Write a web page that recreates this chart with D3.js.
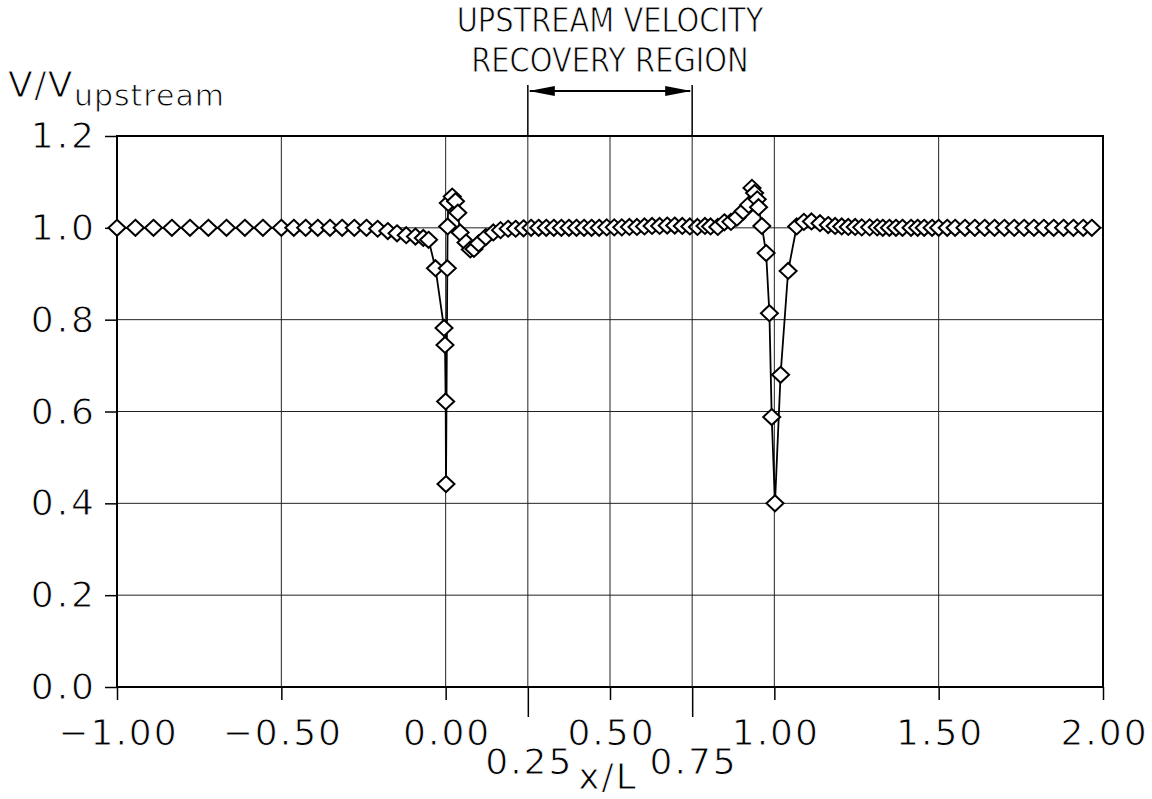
<!DOCTYPE html>
<html>
<head>
<meta charset="utf-8">
<script src="https://cdn.jsdelivr.net/npm/d3@7"></script>
<style>
  html, body { margin: 0; padding: 0; background: #fff; }
  svg { display: block; }
  text { font-family: "DejaVu Sans", sans-serif; fill: #000; stroke: #fff; stroke-width: 0.9px; }
</style>
</head>
<body>
<svg id="chart" width="1152" height="799"></svg>
<script>
// ---- data ----
const xValues = [
  -1.000, -0.944, -0.889, -0.833, -0.778, -0.722, -0.667, -0.611, -0.556, -0.500,
  -0.462, -0.426, -0.389, -0.352, -0.315, -0.278, -0.241, -0.207, -0.176, -0.148,
  -0.120, -0.092, -0.068, -0.052, -0.031, -0.005, -0.002, 0.000, 0.001, 0.005,
  0.006, 0.008, 0.020, 0.030, 0.037, 0.044, 0.062, 0.075, 0.086, 0.100,
  0.122, 0.145, 0.167, 0.190, 0.213, 0.237, 0.260, 0.283, 0.306, 0.329,
  0.352, 0.375, 0.398, 0.421, 0.444, 0.467, 0.490, 0.513, 0.536, 0.559,
  0.582, 0.605, 0.628, 0.651, 0.674, 0.697, 0.720, 0.743, 0.766, 0.789,
  0.806, 0.828, 0.848, 0.868, 0.886, 0.905, 0.922, 0.932, 0.940, 0.948,
  0.952, 0.962, 0.975, 0.985, 0.992, 1.002, 1.019, 1.042, 1.068, 1.090,
  1.113, 1.139, 1.164, 1.185, 1.205, 1.225, 1.246, 1.266, 1.290, 1.313,
  1.330, 1.350, 1.370, 1.390, 1.416, 1.436, 1.456, 1.480, 1.500, 1.526,
  1.550, 1.580, 1.610, 1.640, 1.670, 1.700, 1.730, 1.760, 1.790, 1.820,
  1.850, 1.880, 1.910, 1.940, 1.966
];
const yValues = [
  1.000, 1.000, 1.000, 1.000, 1.000, 1.000, 1.000, 1.000, 1.000, 1.000,
  1.000, 1.000, 1.000, 1.000, 1.000, 1.000, 1.000, 0.998, 0.993, 0.988,
  0.984, 0.981, 0.978, 0.974, 0.912, 0.782, 0.745, 0.622, 0.442, 0.912,
  1.003, 1.054, 1.068, 1.058, 1.033, 0.990, 0.968, 0.953, 0.954, 0.966,
  0.980, 0.990, 0.995, 0.998, 0.998, 0.999, 1.000, 1.000, 1.000, 1.000,
  1.000, 1.000, 1.000, 1.000, 1.000, 1.000, 1.001, 1.001, 1.001, 1.002,
  1.002, 1.003, 1.004, 1.004, 1.005, 1.005, 1.004, 1.003, 1.002, 1.004,
  1.003, 1.002, 1.012, 1.013, 1.022, 1.036, 1.050, 1.087, 1.076, 1.062,
  1.045, 1.004, 0.945, 0.814, 0.588, 0.400, 0.680, 0.906, 1.003, 1.013,
  1.014, 1.010, 1.006, 1.004, 1.003, 1.002, 1.002, 1.001, 1.001, 1.001,
  1.000, 1.000, 1.000, 1.000, 1.000, 1.000, 1.000, 1.000, 1.000, 1.000,
  1.000, 1.000, 1.000, 1.000, 1.000, 1.000, 1.000, 1.000, 1.000, 1.000,
  1.000, 1.000, 1.000, 1.000, 1.000
];
const xTickValues = [-1.0, -0.5, 0.0, 0.5, 1.0, 1.5, 2.0];
const xTickLabels = ["\u22121.00", "\u22120.50", "0.00", "0.50", "1.00", "1.50", "2.00"];
const xExtraTicks = [0.25, 0.75];
const xExtraLabels = ["0.25", "0.75"];
const yTickValues = [0.0, 0.2, 0.4, 0.6, 0.8, 1.0, 1.2];
const yTickLabels = ["0.0", "0.2", "0.4", "0.6", "0.8", "1.0", "1.2"];
const regionStart = 0.25, regionEnd = 0.75;
const titleLines = ["UPSTREAM VELOCITY", "RECOVERY REGION"];

// ---- layout ----
const svg = d3.select("#chart");
const L = 117, R = 1103, T = 136, B = 687;
const x = d3.scaleLinear().domain([-1, 2]).range([L, R]);
const y = d3.scaleLinear().domain([0, 1.2]).range([B, T]);
const FS = 36;

// grid
const grid = svg.append("g").attr("stroke", "#222").attr("stroke-width", 1);
grid.selectAll("line.v").data(xTickValues).join("line")
  .attr("x1", d => x(d)).attr("x2", d => x(d)).attr("y1", T).attr("y2", B);
grid.selectAll("line.h").data(yTickValues).join("line")
  .attr("x1", L).attr("x2", R).attr("y1", d => y(d)).attr("y2", d => y(d));

// axes
const xAxis = d3.axisBottom(x).tickValues(xTickValues).tickSize(13)
  .tickFormat((d, i) => xTickLabels[i]);
const gx = svg.append("g").attr("transform", `translate(0,${B})`).call(xAxis);
gx.select(".domain").remove();
gx.selectAll(".tick line").attr("stroke", "#000").attr("stroke-width", 1.5);
gx.selectAll(".tick text").attr("font-size", FS).attr("y", 32).attr("dy", "0.71em")
  .attr("dx", 1).attr("letter-spacing", 2)
  .attr("font-family", "DejaVu Sans").attr("fill", "#000");

const xAxis2 = d3.axisBottom(x).tickValues(xExtraTicks).tickSize(30)
  .tickFormat((d, i) => xExtraLabels[i]);
const gx2 = svg.append("g").attr("transform", `translate(0,${B})`).call(xAxis2);
gx2.select(".domain").remove();
gx2.selectAll(".tick line").attr("stroke", "#000").attr("stroke-width", 1.5);
gx2.selectAll(".tick text").attr("font-size", FS).attr("y", 61).attr("dy", "0.71em")
  .attr("dx", 1).attr("letter-spacing", 2)
  .attr("font-family", "DejaVu Sans").attr("fill", "#000");

const yAxis = d3.axisLeft(y).tickValues(yTickValues).tickSize(12)
  .tickFormat((d, i) => yTickLabels[i]);
const gy = svg.append("g").attr("transform", `translate(${L},0)`).call(yAxis);
gy.select(".domain").remove();
gy.selectAll(".tick line").attr("stroke", "#000").attr("stroke-width", 1.5);
gy.selectAll(".tick text").attr("font-size", FS).attr("x", -20).attr("letter-spacing", 3)
  .attr("font-family", "DejaVu Sans").attr("fill", "#000");

// frame
svg.append("rect").attr("x", L).attr("y", T).attr("width", R - L).attr("height", B - T)
  .attr("fill", "none").attr("stroke", "#000").attr("stroke-width", 2);

// data line
const pts = xValues.map((v, i) => [v, yValues[i]]);
svg.append("path").datum(pts)
  .attr("fill", "none").attr("stroke", "#000").attr("stroke-width", 1.8)
  .attr("d", d3.line().x(d => x(d[0])).y(d => y(d[1])));

// diamond markers
const hw = 8.5, hh = 8;
svg.append("g").selectAll("path").data(pts).join("path")
  .attr("d", d => {
    const cx = x(d[0]), cy = y(d[1]);
    return `M${cx},${cy - hh}L${cx + hw},${cy}L${cx},${cy + hh}L${cx - hw},${cy}Z`;
  })
  .attr("fill", "#fff").attr("stroke", "#000").attr("stroke-width", 2);

// region markers above the plot (and through it, down to the long ticks)
const topY = 85, arrowY = 91;
svg.append("g").selectAll("line").data([regionStart, regionEnd]).join("line")
  .attr("x1", d => x(d)).attr("x2", d => x(d)).attr("y1", topY).attr("y2", T)
  .attr("stroke", "#000").attr("stroke-width", 1.5);
svg.append("g").selectAll("line").data([regionStart, regionEnd]).join("line")
  .attr("x1", d => x(d)).attr("x2", d => x(d)).attr("y1", T).attr("y2", B)
  .attr("stroke", "#222").attr("stroke-width", 1);
svg.append("line").attr("x1", x(regionStart) + 2).attr("x2", x(regionEnd) - 2)
  .attr("y1", arrowY).attr("y2", arrowY).attr("stroke", "#000").attr("stroke-width", 2);
const ah = 26, aw = 5;
svg.append("path")
  .attr("d", `M${x(regionStart) + 1},${arrowY}L${x(regionStart) + 1 + ah},${arrowY - aw}L${x(regionStart) + 1 + ah},${arrowY + aw}Z`)
  .attr("fill", "#000");
svg.append("path")
  .attr("d", `M${x(regionEnd) - 1},${arrowY}L${x(regionEnd) - 1 - ah},${arrowY - aw}L${x(regionEnd) - 1 - ah},${arrowY + aw}Z`)
  .attr("fill", "#000");

// title: two lines, horizontally condensed
const midX = x((regionStart + regionEnd) / 2);
const title = svg.append("text")
  .attr("transform", `translate(${midX},0) scale(0.85,1)`)
  .attr("text-anchor", "middle").attr("font-size", 34);
title.append("tspan").attr("x", 0).attr("y", 32).text(titleLines[0]);
title.append("tspan").attr("x", 0).attr("y", 72).text(titleLines[1]);

// y-axis label
const yl = svg.append("text").attr("x", 8).attr("y", 97).attr("font-size", 36)
  .attr("letter-spacing", 1.5);
yl.append("tspan").text("V/V");
yl.append("tspan").attr("dy", 9).attr("font-size", 30).attr("letter-spacing", 1).text("upstream");

// x-axis label
svg.append("text").attr("x", 608).attr("y", 789).attr("text-anchor", "middle")
  .attr("font-size", 36).attr("letter-spacing", 2).text("x/L");
</script>
</body>
</html>
